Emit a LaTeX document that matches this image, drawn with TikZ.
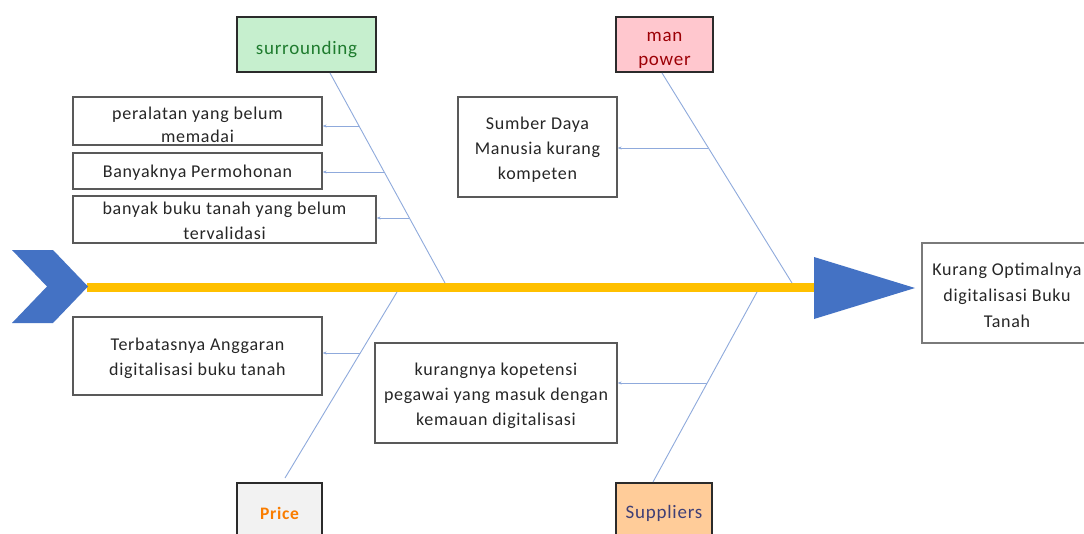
\documentclass[tikz,border=0pt]{standalone}
\usepackage{fontspec}
\setmainfont{Carlito}[LetterSpace=4]
\usetikzlibrary{arrows.meta}
\definecolor{bone}{HTML}{8FAADC}
\definecolor{spine}{HTML}{FFC000}
\definecolor{fishblue}{HTML}{4472C4}
\definecolor{boxgray}{HTML}{595959}
\definecolor{catborder}{HTML}{2B2B2B}
\definecolor{txt}{HTML}{262626}
\definecolor{goodfill}{HTML}{C6EFCE}
\definecolor{goodtxt}{HTML}{1E7B2E}
\definecolor{badfill}{HTML}{FFC7CE}
\definecolor{badtxt}{HTML}{9C0006}
\definecolor{pricefill}{HTML}{F2F2F2}
\definecolor{pricetxt}{HTML}{FA7D00}
\definecolor{supfill}{HTML}{FFCC99}
\definecolor{suptxt}{HTML}{3F3F76}
\begin{document}
\begin{tikzpicture}[x=1pt,y=-1pt,
  cause/.style={draw=boxgray, line width=1.3pt, fill=white, inner sep=0pt},
  ctext/.style={text=txt, align=center, inner sep=0pt, font=\fontsize{18}{23}\selectfont},
  cat/.style={draw=catborder, line width=2.4pt, inner sep=0pt},
  cattext/.style={align=center, inner sep=0pt, font=\fontsize{19}{24}\selectfont},
  bonestyle/.style={draw=bone, line width=0.9pt},
  twig/.style={draw=bone, line width=0.9pt, {Stealth[length=4pt,width=3pt]}-}]
\useasboundingbox (0,0) rectangle (1084,533);
\clip (0,0) rectangle (1084,533);
\fill[white] (0,0) rectangle (1084,533);

% category boxes
\node[cat, fill=goodfill, minimum width=139pt, minimum height=55pt] (sur) at (306.5,44.5) {};
\node[cattext, text=goodtxt] (surt) at ([yshift=-5pt]sur.center) {surrounding};
\node[cat, fill=badfill, minimum width=97pt, minimum height=55pt] (man) at (664.5,44.5) {};
\node[cattext, text=badtxt] (mant) at ([yshift=-6pt]man.center) {man\\power};
\node[cat, fill=pricefill, minimum width=85pt, minimum height=64pt] (price) at (279.5,515) {};
\node[cattext, text=pricetxt, font=\fontsize{17.5}{24}\selectfont\bfseries] (pricet) at ([yshift=2pt]price.center) {Price};
\node[cat, fill=supfill, minimum width=96pt, minimum height=64pt] (sup) at (664,515) {};
\node[cattext, text=suptxt] (supt) at ([yshift=2pt]sup.center) {Suppliers};

% cause boxes
\node[cause, minimum width=249pt, minimum height=48pt] (c1) at (197.5,121) {};
\node[ctext] (c1t) at ([yshift=-3.5pt]c1.center) {peralatan yang belum\\memadai};
\node[cause, minimum width=249pt, minimum height=36pt] (c2) at (197.5,171) {};
\node[ctext] (c2t) at ([yshift=-2pt]c2.center) {Banyaknya Permohonan};
\node[cause, minimum width=303pt, minimum height=47pt] (c3) at (224.5,219.5) {};
\node[ctext, font=\fontsize{18}{25}\selectfont] (c3t) at ([yshift=-1.5pt]c3.center) {banyak buku tanah yang belum\\tervalidasi};
\node[cause, minimum width=159pt, minimum height=100pt] (c4) at (537.5,147) {};
\node[ctext, font=\fontsize{18}{25}\selectfont] (c4t) at ([yshift=-2.5pt]c4.center) {Sumber Daya\\Manusia kurang\\kompeten};
\node[cause, minimum width=249pt, minimum height=78pt] (c5) at (197.5,356) {};
\node[ctext, font=\fontsize{18}{25}\selectfont] (c5t) at ([yshift=-2pt]c5.center) {Terbatasnya Anggaran\\digitalisasi buku tanah};
\node[cause, minimum width=242pt, minimum height=100pt] (c6) at (496,393) {};
\node[ctext, font=\fontsize{18}{25}\selectfont] (c6t) at ([yshift=-2.5pt]c6.center) {kurangnya kopetensi\\pegawai yang masuk dengan\\kemauan digitalisasi};

% effect box
\node[draw=boxgray!80, line width=1.3pt, fill=white, minimum width=170pt, minimum height=100pt, inner sep=0pt] (eff) at (1007,293) {};
\node[ctext, font=\fontsize{18}{26}\selectfont] (efft) at ([yshift=-2pt]eff.center) {Kurang Optimalnya\\digitalisasi Buku\\Tanah};

% coordinates of bones
\coordinate (tail) at (87,287.5);
\coordinate (head) at (815,287.5);
\coordinate (sTop) at (330,73);
\coordinate (sEnd) at (445,283);
\coordinate (mTop) at (662,73);
\coordinate (mEnd) at (792,283);
\coordinate (pBot) at (285,478);
\coordinate (pEnd) at (397,292);
\coordinate (uBot) at (653,482);
\coordinate (uEnd) at (757,292);
\coordinate (j1) at (359,126);
\coordinate (j2) at (384,172);
\coordinate (j3) at (409,218);
\coordinate (j4) at (708,148);
\coordinate (j5) at (360,353);
\coordinate (j6) at (707,383);

% spine
\draw[spine, line width=9pt] (tail) -- (head);

% bones
\draw[bonestyle] (sTop) -- (sEnd);
\draw[bonestyle] (mTop) -- (mEnd);
\draw[bonestyle] (pBot) -- (pEnd);
\draw[bonestyle] (uBot) -- (uEnd);

% twigs
\draw[twig] (c1.east |- j1) -- (j1);
\draw[twig] (c2.east |- j2) -- (j2);
\draw[twig] (c3.east |- j3) -- (j3);
\draw[twig] (c4.east |- j4) -- (j4);
\draw[twig] (c5.east |- j5) -- (j5);
\draw[twig] (c6.east |- j6) -- (j6);

% tail chevron and head
\fill[fishblue] (12,250) -- (53,250) -- (88,286.5) -- (53,323) -- (12,323) -- (47,286.5) -- cycle;
\fill[fishblue] (814,257) -- (915,288) -- (814,319) -- cycle;
\end{tikzpicture}
\end{document}
